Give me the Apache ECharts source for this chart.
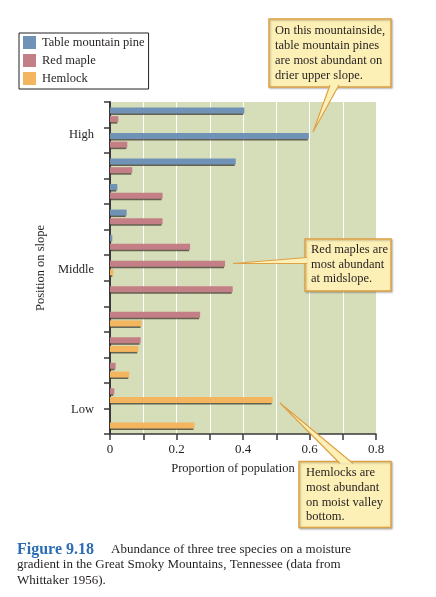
<!DOCTYPE html>
<html>
<head>
<meta charset="utf-8">
<script src="https://cdn.jsdelivr.net/npm/echarts@6/dist/echarts.min.js"></script>
<style>
html,body{margin:0;padding:0;background:#fff;}
#chart{width:436px;height:597px;}
</style>
</head>
<body>
<div id="chart"></div>
<script>
// ---- data ----
const positions = ['1','2','3','4','5','6','7','8','9','10','11','12','13']; // upper slope -> valley bottom
const tableMountainPine = [0.404, 0.598, 0.378, 0.022, 0.050, 0.007, null, null, null, null, null, null, null];
const redMaple          = [0.025, 0.052, 0.067, 0.158, 0.158, 0.241, 0.346, 0.369, 0.271, 0.092, 0.017, 0.013, null];
const hemlock           = [null, null, null, null, null, null, 0.010, null, 0.095, 0.085, 0.058, 0.489, 0.254];
const slopeLabels = ['High', 'Middle', 'Low'];
const slopeLabelAt = [1.29, 6.58, 12.06]; // in category units from the top
const xTicks = [0, 0.2, 0.4, 0.6, 0.8];

const SERIF = '"Liberation Serif", "DejaVu Serif", serif';
const PINE = '#6f92b6', MAPLE = '#c47e86', HEM = '#f3b55e';
const BOX_FILL = '#fdf0b6', BOX_LINE = '#dea246';

// maple bars sit in the second slot where pines occur, in the first slot below
const splitAt = tableMountainPine.reduce((a, v, i) => (v != null ? i + 1 : a), 0);
const mapleUpper = redMaple.map((v, i) => (i < splitAt ? v : null));
const mapleLower = redMaple.map((v, i) => (i >= splitAt ? v : null));
const toData = arr => arr.map(v => (v == null ? '-' : v));

const barStyle = c => ({
  color: c,
  shadowColor: 'rgba(60,55,45,0.75)',
  shadowBlur: 0,
  shadowOffsetX: -1,
  shadowOffsetY: 1.5
});

const chart = echarts.init(document.getElementById('chart'), null, {renderer: 'canvas'});

function callout(box, tipBase, tip, lines, textX, textY, lh) {
  const els = [];
  els.push({
    type: 'rect', z: 20,
    shape: {x: box[0], y: box[1], width: box[2], height: box[3]},
    style: {fill: BOX_FILL, stroke: BOX_LINE, lineWidth: 1.5,
      shadowColor: 'rgba(0,0,0,0.25)', shadowBlur: 2, shadowOffsetX: 1, shadowOffsetY: 1}
  });
  els.push({
    type: 'polygon', z: 21,
    shape: {points: [tipBase[0], tip, tipBase[1]]},
    style: {fill: BOX_FILL, stroke: null}
  });
  els.push({
    type: 'polyline', z: 22,
    shape: {points: [tipBase[0], tip, tipBase[1]]},
    style: {fill: null, stroke: BOX_LINE, lineWidth: 1.2}
  });
  els.push({
    type: 'text', z: 23, x: textX, y: textY,
    style: {text: lines.join('\n'), font: '12.5px ' + SERIF, fill: '#231f20',
      lineHeight: lh, textAlign: 'left', textVerticalAlign: 'top'}
  });
  return els;
}

const graphics = [].concat(
  callout([269, 19, 122, 68], [[330, 85], [339, 85]], [313, 132],
    ['On this mountainside,', 'table mountain pines', 'are most abundant on', 'drier upper slope.'], 275, 23.5, 15),
  callout([305, 239, 86, 52], [[307, 257.5], [307, 263.5]], [233, 263.5],
    ['Red maples are', 'most abundant', 'at midslope.'], 311, 243, 14.3),
  callout([299, 461.5, 92, 66], [[340, 463.5], [353, 463.5]], [280, 403],
    ['Hemlocks are', 'most abundant', 'on moist valley', 'bottom.'], 306, 465.5, 14.7),
  [
    {type: 'text', x: 17, y: 549.5,
      style: {text: 'Figure 9.18', font: 'bold 16px ' + SERIF, fill: '#2b6db4', textVerticalAlign: 'middle'}},
    {type: 'text', x: 111, y: 549.5,
      style: {text: 'Abundance of three tree species on a moisture', font: '13px ' + SERIF, fill: '#231f20', textVerticalAlign: 'middle'}},
    {type: 'text', x: 17, y: 565,
      style: {text: 'gradient in the Great Smoky Mountains, Tennessee (data from', font: '13px ' + SERIF, fill: '#231f20', textVerticalAlign: 'middle'}},
    {type: 'text', x: 17, y: 580.5,
      style: {text: 'Whittaker 1956).', font: '13px ' + SERIF, fill: '#231f20', textVerticalAlign: 'middle'}}
  ]
);

const option = {
  animation: false,
  backgroundColor: '#ffffff',
  textStyle: {fontFamily: SERIF},
  grid: {left: 110, right: 60, top: 102, bottom: 163, show: true,
    backgroundColor: '#d6ddb9', borderWidth: 0},
  legend: {
    orient: 'vertical', left: 19, top: 33,
    data: ['Table mountain pine', 'Red maple', 'Hemlock'],
    icon: 'rect', itemWidth: 13, itemHeight: 13, itemGap: 5,
    padding: [3, 4, 4, 4],
    borderColor: '#222', borderWidth: 1, borderRadius: 0,
    backgroundColor: '#fff',
    itemStyle: {shadowBlur: 0, shadowOffsetX: 0, shadowOffsetY: 0, shadowColor: 'transparent'},
    textStyle: {fontFamily: SERIF, fontSize: 12.5, color: '#231f20', padding: [0, 0, 0, 1]},
    selectedMode: false
  },
  xAxis: {
    type: 'value', min: 0, max: 0.8, interval: 0.1,
    name: 'Proportion of population', nameLocation: 'middle', nameGap: 28,
    nameTextStyle: {fontFamily: SERIF, fontSize: 12.5, color: '#231f20', padding: [0, 20, 0, 0]},
    axisLine: {show: true, onZero: false, lineStyle: {color: '#3a3a3a', width: 1.5}},
    axisTick: {show: true, inside: false, length: 6, lineStyle: {color: '#3a3a3a', width: 1.5}},
    axisLabel: {
      margin: 9, fontFamily: SERIF, fontSize: 13, color: '#231f20',
      formatter: v => {
        const hit = xTicks.find(t => Math.abs(t - v) < 1e-6);
        return hit === undefined ? '' : String(hit);
      }
    },
    splitLine: {show: true, lineStyle: {color: '#ffffff', width: 1}}
  },
  yAxis: [
    {
      type: 'category', data: positions, inverse: true,
      axisLine: {show: true, onZero: false, lineStyle: {color: '#3a3a3a', width: 2}},
      axisTick: {show: true, inside: false, length: 6, lineStyle: {color: '#3a3a3a', width: 1.5}},
      axisLabel: {show: false},
      splitLine: {show: false}
    },
    {
      type: 'value', min: 0, max: positions.length, inverse: true, position: 'left',
      name: 'Position on slope', nameLocation: 'middle', nameGap: 62, nameRotate: 90,
      nameTextStyle: {fontFamily: SERIF, fontSize: 12.5, color: '#231f20'},
      axisLine: {show: false, onZero: false}, axisTick: {show: false}, splitLine: {show: false},
      axisLabel: {
        show: true, margin: 16, fontFamily: SERIF, fontSize: 12.5, color: '#231f20',
        customValues: slopeLabelAt,
        formatter: v => {
          const i = slopeLabelAt.findIndex(p => Math.abs(p - v) < 1e-6);
          return i < 0 ? '' : slopeLabels[i];
        }
      }
    }
  ],
  series: [
    {name: 'Table mountain pine', type: 'bar', stack: 'slot1', yAxisIndex: 0,
      data: toData(tableMountainPine), barWidth: 6, barGap: '45%', itemStyle: barStyle(PINE)},
    {name: 'Red maple', type: 'bar', stack: 'slot2', yAxisIndex: 0,
      data: toData(mapleUpper), barWidth: 6, barGap: '45%', itemStyle: barStyle(MAPLE)},
    {name: 'Red maple', type: 'bar', stack: 'slot1', yAxisIndex: 0,
      data: toData(mapleLower), barWidth: 6, barGap: '45%', itemStyle: barStyle(MAPLE)},
    {name: 'Hemlock', type: 'bar', stack: 'slot2', yAxisIndex: 0,
      data: toData(hemlock), barWidth: 6, barGap: '45%', itemStyle: barStyle(HEM)}
  ],
  graphic: graphics
};
chart.setOption(option);
</script>
</body>
</html>
